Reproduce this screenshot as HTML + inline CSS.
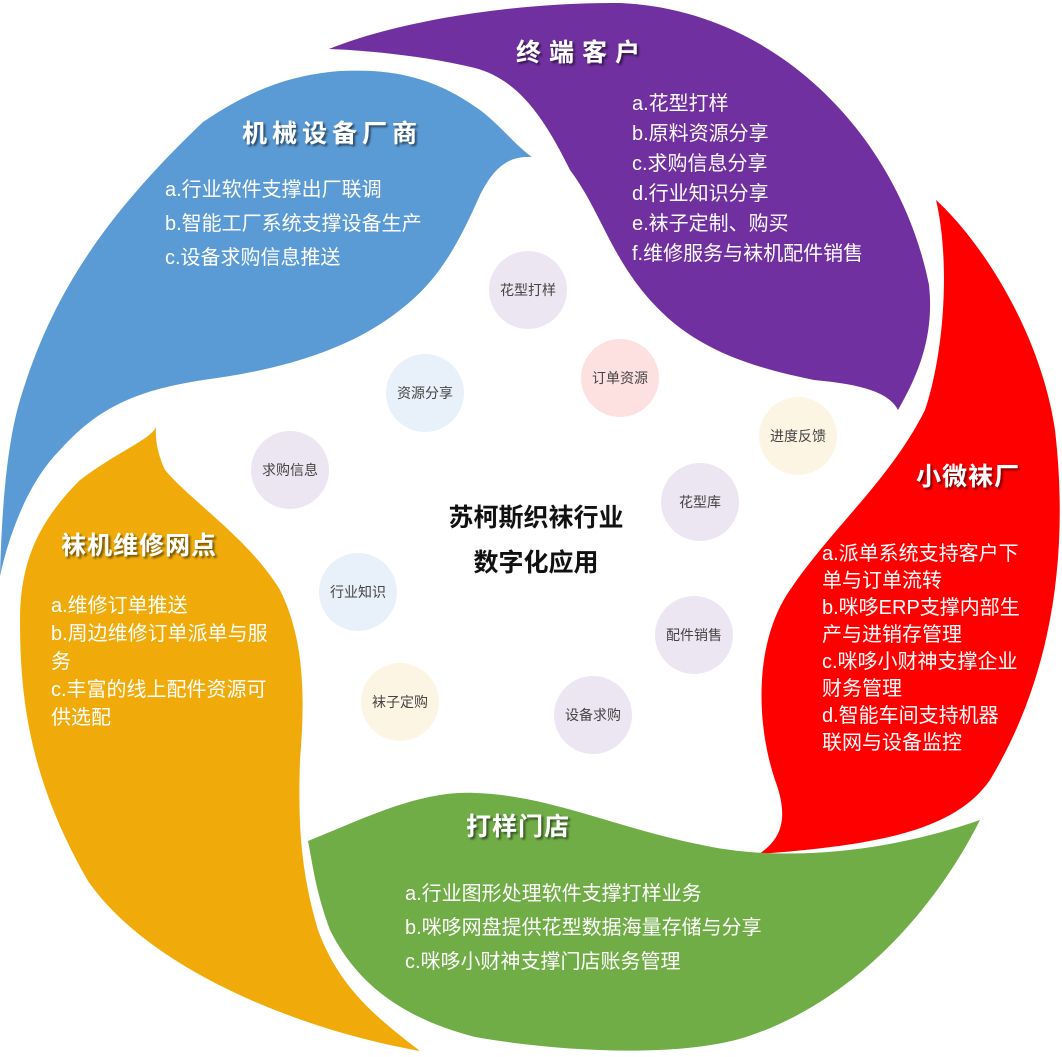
<!DOCTYPE html>
<html><head><meta charset="utf-8"><style>
body{margin:0;background:#fff;}
svg text{font-family:"Liberation Sans","Noto Sans CJK SC",sans-serif;}
.t{fill:#fff;font-size:20px;}
.h{fill:#fff;font-size:25px;font-weight:bold;}
.c{fill:#444;font-size:14px;text-anchor:middle;dominant-baseline:central;}
</style></head><body>
<svg width="1062" height="1052" viewBox="0 0 1062 1052" xmlns="http://www.w3.org/2000/svg">
<defs><filter id="s" x="-10%" y="-30%" width="120%" height="160%"><feDropShadow dx="2" dy="2" stdDeviation="1" flood-color="#000" flood-opacity="0.55"/></filter></defs>
<path d="M329,49 C400,20 520,2 620,3 C780,10 900,140 929,285 C935,340 915,380 898,410 C890,395 870,385 814,380 C740,365 690,345 650,300 C610,255 600,210 570,170 C545,120 520,80 475,68 C420,55 360,50 329,49 Z" fill="#7030a0"/>
<path d="M936,200 C980,240 1040,330 1055,430 C1070,560 1050,680 990,780 C955,830 880,845 759,854 C780,840 790,820 775,780 C755,720 755,640 790,590 C830,530 890,480 925,410 C945,350 950,260 936,200 Z" fill="#ff0000"/>
<path d="M308,841 C360,820 420,790 475,793 C550,795 620,830 712,847 C780,860 880,855 980,820 C940,900 860,1000 746,1037 C680,1058 560,1052 475,1037 C410,1020 360,990 330,930 C315,890 312,860 308,841 Z" fill="#70ad47"/>
<path d="M156,427 C150,440 120,450 80,480 C40,520 20,560 20,620 C20,700 30,780 88,881 C150,970 300,1030 420,1051 C380,1020 340,990 318,930 C300,870 298,820 300,760 C305,700 305,640 280,590 C250,540 190,500 165,470 C158,455 155,440 156,427 Z" fill="#f0ab0a"/>
<path d="M0,576 C2,500 8,440 20,400 C50,300 100,220 203,122 C250,90 290,75 340,71 C400,68 440,81 480,110 C500,125 515,145 532,157 C510,156 495,165 480,195 C460,240 440,280 400,310 C350,350 280,370 203,380 C140,390 100,405 60,450 C30,480 10,530 0,576 Z" fill="#5b9bd5"/>
<g filter="url(#s)">
<text class="h" x="582" y="61" text-anchor="middle" letter-spacing="8">终端客户</text>
<text class="h" x="332" y="142" text-anchor="middle" letter-spacing="5">机械设备厂商</text>
<text class="h" x="968" y="485" text-anchor="middle" letter-spacing="1">小微袜厂</text>
<text class="h" x="139" y="554" text-anchor="middle" letter-spacing="1">袜机维修网点</text>
<text class="h" x="518" y="835" text-anchor="middle" letter-spacing="1">打样门店</text>
</g>
<g class="t">
<text x="632" y="110">a.花型打样</text>
<text x="632" y="140">b.原料资源分享</text>
<text x="632" y="170">c.求购信息分享</text>
<text x="632" y="200">d.行业知识分享</text>
<text x="632" y="230">e.袜子定制、购买</text>
<text x="632" y="260">f.维修服务与袜机配件销售</text>
<text x="165" y="196">a.行业软件支撑出厂联调</text>
<text x="165" y="230">b.智能工厂系统支撑设备生产</text>
<text x="165" y="264">c.设备求购信息推送</text>
<text x="822" y="560">a.派单系统支持客户下</text>
<text x="822" y="587">单与订单流转</text>
<text x="822" y="614">b.咪哆ERP支撑内部生</text>
<text x="822" y="641">产与进销存管理</text>
<text x="822" y="668">c.咪哆小财神支撑企业</text>
<text x="822" y="695">财务管理</text>
<text x="822" y="722">d.智能车间支持机器</text>
<text x="822" y="749">联网与设备监控</text>
<text x="51" y="612">a.维修订单推送</text>
<text x="51" y="640">b.周边维修订单派单与服</text>
<text x="51" y="668">务</text>
<text x="51" y="696">c.丰富的线上配件资源可</text>
<text x="51" y="724">供选配</text>
<text x="405" y="900">a.行业图形处理软件支撑打样业务</text>
<text x="405" y="934">b.咪哆网盘提供花型数据海量存储与分享</text>
<text x="405" y="968">c.咪哆小财神支撑门店账务管理</text>
</g>
<g>
<circle cx="528" cy="290" r="39" fill="#ece6f2"/><text class="c" x="528" y="290">花型打样</text>
<circle cx="620" cy="378" r="39" fill="#fde0e0"/><text class="c" x="620" y="378">订单资源</text>
<circle cx="425" cy="393" r="39" fill="#e8f1fa"/><text class="c" x="425" y="393">资源分享</text>
<circle cx="798" cy="436" r="39" fill="#fdf5e4"/><text class="c" x="798" y="436">进度反馈</text>
<circle cx="290" cy="470" r="39" fill="#ece6f2"/><text class="c" x="290" y="470">求购信息</text>
<circle cx="700" cy="502" r="39" fill="#ece6f2"/><text class="c" x="700" y="502">花型库</text>
<circle cx="358" cy="592" r="39" fill="#e8f1fa"/><text class="c" x="358" y="592">行业知识</text>
<circle cx="694" cy="635" r="39" fill="#ece6f2"/><text class="c" x="694" y="635">配件销售</text>
<circle cx="400" cy="702" r="39" fill="#fdf5e4"/><text class="c" x="400" y="702">袜子定购</text>
<circle cx="593" cy="715" r="39" fill="#ece6f2"/><text class="c" x="593" y="715">设备求购</text>
</g>
<text x="536" y="526" text-anchor="middle" font-size="25" font-weight="bold" fill="#111">苏柯斯织袜行业</text>
<text x="536" y="571" text-anchor="middle" font-size="25" font-weight="bold" fill="#111">数字化应用</text>
</svg>
</body></html>
